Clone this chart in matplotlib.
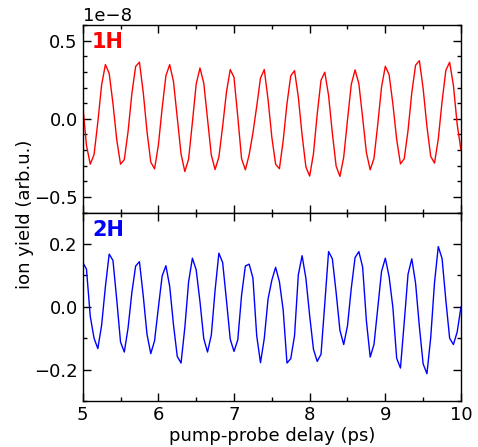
import matplotlib
matplotlib.use('Agg')
import matplotlib.pyplot as plt
from matplotlib.ticker import MultipleLocator
import numpy as np

# pump-probe delay grid (ps)
delay = np.linspace(5, 10, 101)

# ion yield, 1H (units of 1e-8)
yield_1h = np.array([
    0.09, -0.17, -0.29, -0.229, -0.021, 0.216, 0.347, 0.291, 0.098, -0.134,
    -0.29, -0.261, -0.08, 0.162, 0.335, 0.362, 0.171, -0.081, -0.277, -0.32,
    -0.169, 0.068, 0.276, 0.347, 0.238, 0.007, -0.225, -0.337, -0.257, -0.022,
    0.222, 0.325, 0.229, -0.002, -0.232, -0.324, -0.244, -0.047, 0.170, 0.315,
    0.265, 0.013, -0.255, -0.326, -0.23, -0.09, 0.08, 0.26, 0.315, 0.123,
    -0.118, -0.29, -0.319, -0.139, 0.097, 0.275, 0.308, 0.14, -0.104, -0.307,
    -0.366, -0.223, 0.032, 0.247, 0.298, 0.149, -0.093, -0.303, -0.368, -0.245,
    -0.007, 0.22, 0.313, 0.225, 0.008, -0.216, -0.326, -0.253, -0.035, 0.204,
    0.336, 0.282, 0.094, -0.132, -0.288, -0.255, -0.075, 0.168, 0.343, 0.372,
    0.193, -0.049, -0.24, -0.283, -0.129, 0.111, 0.31, 0.362, 0.213, -0.036,
    -0.2,
]) * 1e-8

# ion yield, 2H
yield_2h = np.array([
    0.142, 0.12, -0.03, -0.10, -0.133, -0.059, 0.064, 0.168, 0.148, 0.023,
    -0.112, -0.144, -0.067, 0.046, 0.13, 0.144, 0.036, -0.088, -0.149, -0.108,
    -0.003, 0.098, 0.131, 0.065, -0.057, -0.158, -0.179, -0.066, 0.08, 0.155,
    0.118, 0.017, -0.101, -0.144, -0.09, 0.053, 0.171, 0.141, 0.021, -0.103,
    -0.142, -0.105, 0.037, 0.13, 0.136, 0.092, -0.092, -0.178, -0.101, 0.025,
    0.085, 0.126, 0.08, -0.01, -0.179, -0.165, -0.092, 0.102, 0.163, 0.091,
    -0.028, -0.135, -0.174, -0.151, 0.011, 0.176, 0.153, 0.045, -0.075, -0.12,
    -0.06, 0.059, 0.157, 0.176, 0.127, -0.045, -0.16, -0.12, -0.004, 0.113,
    0.155, 0.096, -0.002, -0.164, -0.195, -0.049, 0.104, 0.153, 0.075, -0.063,
    -0.182, -0.213, -0.098, 0.077, 0.192, 0.154, 0.021, -0.1, -0.12, -0.08,
    0.0,
])

plt.rcParams['font.family'] = 'DejaVu Sans'
plt.rcParams['font.size'] = 13

fig = plt.figure(figsize=(4.78, 4.47), dpi=100)
ax1 = fig.add_axes([0.173, 0.5242, 0.7914, 0.4199])
ax2 = fig.add_axes([0.173, 0.1029, 0.7914, 0.4213], sharex=ax1)

ax1.plot(delay, yield_1h, color='r', lw=1.0)
ax2.plot(delay, yield_2h, color='b', lw=1.0)

ax1.set_xlim(5, 10)
ax1.set_ylim(-0.6e-8, 0.6e-8)
ax2.set_ylim(-0.3, 0.3)

ax1.yaxis.set_major_locator(MultipleLocator(0.5e-8))
ax1.yaxis.set_minor_locator(MultipleLocator(0.1e-8))
ax1.ticklabel_format(axis='y', style='sci', scilimits=(-8, -8))
ax2.yaxis.set_major_locator(MultipleLocator(0.2))
ax2.yaxis.set_minor_locator(MultipleLocator(0.1))
ax2.xaxis.set_major_locator(MultipleLocator(1))
ax2.xaxis.set_minor_locator(MultipleLocator(0.5))

for ax in (ax1, ax2):
    ax.tick_params(which='both', direction='in', top=True, right=True, labelsize=13)
    ax.tick_params(which='major', length=6, width=1)
    ax.tick_params(which='minor', length=3, width=1)
    for sp in ax.spines.values():
        sp.set_linewidth(1)
ax1.tick_params(labelbottom=False)
ax1.yaxis.get_offset_text().set_fontsize(13)

ax1.text(0.025, 0.96, '1H', transform=ax1.transAxes, color='r',
         fontweight='bold', fontsize=15, va='top', ha='left')
ax2.text(0.025, 0.96, '2H', transform=ax2.transAxes, color='b',
         fontweight='bold', fontsize=15, va='top', ha='left')

ax2.set_xlabel('pump-probe delay (ps)', fontsize=13, labelpad=2)
fig.text(0.052, 0.52, 'ion yield (arb.u.)', rotation=90, fontsize=13,
         ha='center', va='center')

fig.savefig('out.png', dpi=100, facecolor='white')
